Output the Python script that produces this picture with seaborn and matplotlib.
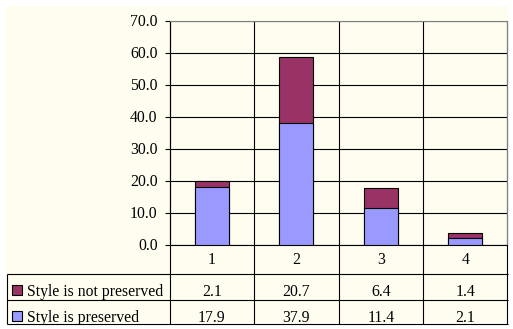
import numpy as np
import pandas as pd
import matplotlib
matplotlib.use("Agg")
import matplotlib.pyplot as plt
import seaborn as sns
from matplotlib.patches import Rectangle
from matplotlib.transforms import blended_transform_factory, Bbox

# ---- data ----
categories = ["1", "2", "3", "4"]
not_preserved = [2.1, 20.7, 6.4, 1.4]
preserved = [17.9, 37.9, 11.4, 2.1]
series_names = ["Style is not preserved", "Style is preserved"]
y_ticks = [0, 10, 20, 30, 40, 50, 60, 70]

BLUE = "#9999FF"
MAROON = "#993366"
CREAM = "#FFFDF0"
GREY = "#808080"

W, H, DPI = 513, 329, 100

sns.set_theme(style="white")
plt.rcParams["font.family"] = ["Liberation Serif", "DejaVu Serif"]
plt.rcParams["font.size"] = 11.3

fig = plt.figure(figsize=(W / DPI, H / DPI), dpi=DPI, facecolor="white")

# background layer in pixel coordinates (origin top-left)
bg = fig.add_axes([0, 0, 1, 1])
bg.set_xlim(0, W)
bg.set_ylim(H, 0)
bg.axis("off")
bg.add_patch(Rectangle((6, 6), 502, 317, facecolor=CREAM, edgecolor="none"))

# plot area
left_px, right_px, top_px, base_px = 169.5, 507.5, 20.5, 244.5
ax = fig.add_axes([left_px / W, (H - base_px) / H,
                   (right_px - left_px) / W, (base_px - top_px) / H])
ax.set_facecolor("none")

df = pd.DataFrame({
    "category": categories,
    "total": np.add(preserved, not_preserved),
    "preserved": preserved,
})

# stacked columns: full height in maroon, lower part in blue on top of it
sns.barplot(data=df, x="category", y="total", color=MAROON, saturation=1,
            width=0.4, edgecolor="black", linewidth=0.8, ax=ax, zorder=3)
sns.barplot(data=df, x="category", y="preserved", color=BLUE, saturation=1,
            width=0.4, edgecolor="black", linewidth=0.8, ax=ax, zorder=4)

n = len(categories)
ax.set_xlim(-0.5, n - 0.5)
ax.set_ylim(0, 70)
ax.set_yticks(y_ticks)
ax.set_yticklabels([f"{v:.1f}" for v in y_ticks])
ax.set_xticks([])
ax.set_xlabel("")
ax.set_ylabel("")
ax.yaxis.grid(True, color="black", linewidth=0.8)
ax.xaxis.grid(False)
ax.set_axisbelow(True)
ax.tick_params(axis="y", which="major", left=True, length=3.6, width=0.8,
               color="black", pad=5, labelcolor="black", labelsize=11.3)
for side in ("top", "right"):
    ax.spines[side].set_color(GREY)
    ax.spines[side].set_linewidth(0.8)
for side in ("left", "bottom"):
    ax.spines[side].set_color("black")
    ax.spines[side].set_linewidth(0.8)

# ---- data table under the plot ----
trans = blended_transform_factory(ax.transData, bg.transData)
row_header = (244.5, 273.5)
row1 = (273.5, 299.5)
row2 = (299.5, 323.5)
table_left = 6.5

lw = 0.8
# category boundaries: through plot and table
for b in np.arange(-0.5, n, 1.0):
    bg.plot([b, b], [top_px, row2[1]], color="black", lw=lw, transform=trans,
            solid_capstyle="butt")
# horizontal table lines
for y in (row1[0], row2[0], row2[1]):
    bg.plot([table_left, right_px], [y, y], color="black", lw=lw,
            solid_capstyle="butt")
bg.plot([table_left, table_left], [row1[0], row2[1]], color="black", lw=lw,
        solid_capstyle="butt")

clip = Bbox.from_extents(table_left, H - row2[1], right_px, H - row2[0])

# category labels
for i, c in enumerate(categories):
    bg.text(i, (row_header[0] + row_header[1]) / 2 + 1, c, transform=trans,
            ha="center", va="center", color="black")

rows = [(not_preserved, MAROON, row1), (preserved, BLUE, row2)]
for (vals, col, (y0, y1)), name in zip(rows, series_names):
    base = y0 + 23
    sq = Rectangle((11.5, y0 + 11), 10, 10, facecolor=col, edgecolor="black",
                   lw=0.8)
    bg.add_patch(sq)
    t = bg.text(27, base, name, ha="left", va="baseline", color="black")
    t.set_clip_box(clip if y0 == row2[0] else None)
    t.set_clip_on(y0 == row2[0])
    for i, v in enumerate(vals):
        tv = bg.text(i, base, f"{v:.1f}", transform=trans, ha="center",
                     va="baseline", color="black")
        if y0 == row2[0]:
            tv.set_clip_box(clip)
            tv.set_clip_on(True)
    if y0 == row2[0]:
        sq.set_clip_box(clip)
        sq.set_clip_on(True)

fig.savefig("out.png", dpi=DPI, facecolor="white")
